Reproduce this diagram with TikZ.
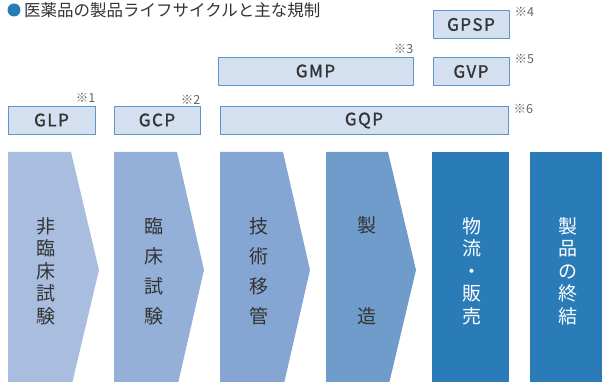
\documentclass[tikz,border=0pt]{standalone}
\usepackage{fontspec}
\setmainfont{Noto Sans CJK JP}
\newfontfamily\boxfont[LetterSpace=9,FakeBold=1.2]{Noto Sans CJK JP}
\definecolor{cA}{RGB}{169,190,223}
\definecolor{cB}{RGB}{148,176,216}
\definecolor{cC}{RGB}{133,166,210}
\definecolor{cD}{RGB}{112,156,204}
\definecolor{cE}{RGB}{42,124,185}
\definecolor{boxfill}{RGB}{212,224,239}
\definecolor{boxline}{RGB}{91,150,205}
\definecolor{txt}{RGB}{51,51,51}
\definecolor{notec}{RGB}{100,100,100}
\tikzset{
  regbox/.style={draw=boxline, line width=0.9pt, fill=boxfill, inner sep=0pt, text=txt,
    font=\boxfont\fontsize{17}{17}\selectfont},
  notelabel/.style={font=\fontsize{12.5}{13}\selectfont, text=notec, inner sep=0pt},
  vtext/.style={font=\fontsize{19}{22.5}\selectfont, align=center, inner sep=0pt, text=txt},
  vtextw/.style={vtext, text=white},
}
\begin{document}
\begin{tikzpicture}[x=1pt,y=-1pt]
\useasboundingbox (0,0) rectangle (602,382);
\clip (0,0) rectangle (602,382);
% title
\fill[cE] (14,10) circle (6.5);
\node[anchor=west, inner sep=0pt, text=txt, font=\fontsize{16.5}{17}\selectfont] (title) at (24,10.5) {医薬品の製品ライフサイクルと主な規制};
% chevrons
\fill[cA] (8,152) -- (71,152) -- (99,270) -- (71,388) -- (8,388) -- cycle;
\fill[cB] (114,152) -- (177,152) -- (204,270) -- (177,388) -- (114,388) -- cycle;
\fill[cC] (220,152) -- (283,152) -- (310,270) -- (283,388) -- (220,388) -- cycle;
\fill[cD] (326,152) -- (388,152) -- (416,270) -- (388,388) -- (326,388) -- cycle;
\fill[cE] (432,152) rectangle (509,390);
\fill[cE] (530,152) rectangle (602,390);
% vertical texts
\node[vtext] (t1) at (46,271) {非\\臨\\床\\試\\験};
\node[vtext, font=\fontsize{19}{30}\selectfont] (t2) at (154,271) {臨\\床\\試\\験};
\node[vtext, font=\fontsize{19}{30}\selectfont] (t3) at (259,271) {技\\術\\移\\管};
\node[vtext, font=\fontsize{19}{91}\selectfont] (t4) at (366.5,271) {製\\造};
\node[vtextw] (t5) at (472,271) {物\\流\\・\\販\\売};
\node[vtextw] (t6) at (568,271) {製\\品\\の\\終\\結};
% regulation boxes
\node[regbox, minimum width=87pt, minimum height=28pt] (glp) at (51.5,120) {GLP};
\node[regbox, minimum width=86pt, minimum height=28pt] (gcp) at (157,120) {GCP};
\node[regbox, minimum width=288pt, minimum height=28pt] (gqp) at (364,120.5) {GQP};
\node[regbox, minimum width=195pt, minimum height=28pt] (gmp) at (315.5,71) {GMP};
\node[regbox, minimum width=76pt, minimum height=28pt] (gvp) at (471,71.5) {GVP};
\node[regbox, minimum width=76pt, minimum height=28pt] (gpsp) at (471,24.5) {GPSP};
% notes
\node[notelabel, anchor=south east] (n1) at (glp.north east) [yshift=3pt] {※1};
\node[notelabel, anchor=south east] (n2) at (gcp.north east) [yshift=1pt] {※2};
\node[notelabel, anchor=south east] (n3) at (gmp.north east) [yshift=3pt] {※3};
\node[notelabel, anchor=north west] (n4) at ([xshift=5pt,yshift=3pt]gpsp.north east) {※4};
\node[notelabel, anchor=north west] (n5) at ([xshift=5pt,yshift=3pt]gvp.north east) {※5};
\node[notelabel, anchor=north west] (n6) at ([xshift=5pt,yshift=2pt]gqp.north east) {※6};
\end{tikzpicture}
\end{document}
